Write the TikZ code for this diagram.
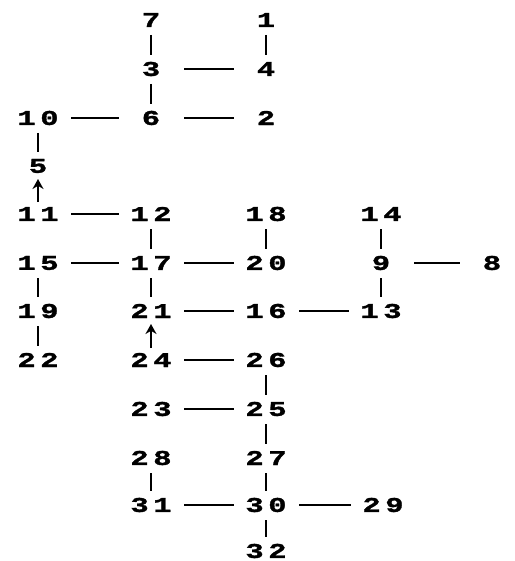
\documentclass[tikz,border=0pt]{standalone}
\usepackage{fontspec}
\usetikzlibrary{arrows.meta}
\newfontfamily\digitfont[FakeStretch=1.45,LetterSpace=22,FakeBold=1.5]{Liberation Mono}
\tikzset{
  num/.style={inner sep=0pt, font=\digitfont\bfseries\fontsize{21}{21}\selectfont},
  hlink/.style={line width=1.2pt, shorten <=33pt, shorten >=32pt},
  vlink/.style={line width=2.2pt, shorten <=15pt, shorten >=14pt},
  uparrow/.style={line width=1.8pt, -{Stealth[length=10pt,width=11pt]}, shorten <=12pt, shorten >=13pt}
}

\begin{document}
\begin{tikzpicture}[x=1pt, y=-1pt]
    \useasboundingbox (0,0) rectangle (514,561);

    % top block
    \node[num] (n7) at (151,20) {7};
    \node[num] (n1) at (266,20) {1};
    \node[num] (n3) at (151,69) {3};
    \node[num] (n4) at (266,69) {4};
    \node[num] (n10) at (38,118) {10};
    \node[num] (n6) at (151,118) {6};
    \node[num] (n2) at (266,118) {2};
    \node[num] (n5) at (38,166) {5};

    % middle block
    \node[num] (n11) at (38,214) {11};
    \node[num] (n12) at (151,214) {12};
    \node[num] (n18) at (266,214) {18};
    \node[num] (n14) at (381,214) {14};
    \node[num] (n15) at (38,263) {15};
    \node[num] (n17) at (151,263) {17};
    \node[num] (n20) at (266,263) {20};
    \node[num] (n9) at (381,263) {9};
    \node[num] (n8) at (492,263) {8};
    \node[num] (n19) at (38,311) {19};
    \node[num] (n21) at (151,311) {21};
    \node[num] (n16) at (266,311) {16};
    \node[num] (n13) at (381,311) {13};
    \node[num] (n22) at (38,360) {22};
    \node[num] (n24) at (151,360) {24};
    \node[num] (n26) at (266,360) {26};

    % bottom block
    \node[num] (n23) at (151,409) {23};
    \node[num] (n25) at (266,409) {25};
    \node[num] (n28) at (151,458) {28};
    \node[num] (n27) at (266,458) {27};
    \node[num] (n31) at (151,505) {31};
    \node[num] (n30) at (266,505) {30};
    \node[num] (n29) at (383,505) {29};
    \node[num] (n32) at (266,551) {32};

    % horizontal links
    \foreach \a/\b in {n3/n4, n10/n6, n6/n2, n11/n12, n15/n17, n17/n20, n9/n8,
                       n21/n16, n16/n13, n24/n26, n23/n25, n31/n30, n30/n29}
        \draw[hlink] (\a.center) -- (\b.center);

    % vertical links
    \foreach \a/\b in {n7/n3, n1/n4, n3/n6, n10/n5, n12/n17, n18/n20, n14/n9,
                       n15/n19, n17/n21, n9/n13, n19/n22, n26/n25, n25/n27,
                       n28/n31, n27/n30, n30/n32}
        \draw[vlink] (\a.center) -- (\b.center);

    % arrows
    \draw[uparrow] (n11.center) -- (n5.center);
    \draw[uparrow] (n24.center) -- (n21.center);
\end{tikzpicture}
\end{document}
